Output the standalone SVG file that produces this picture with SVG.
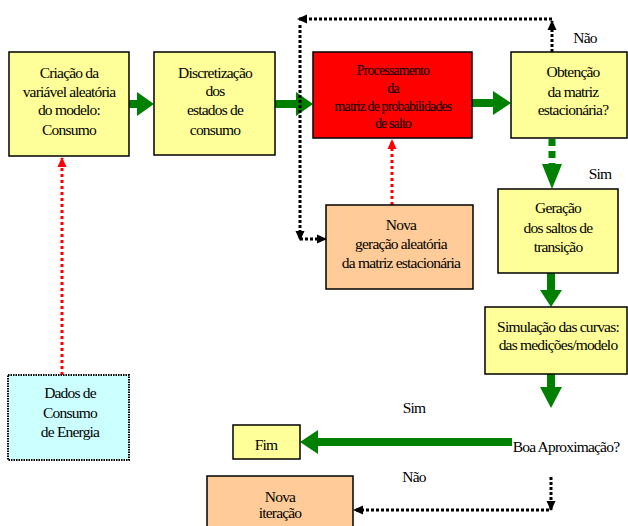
<svg xmlns="http://www.w3.org/2000/svg" width="628" height="526" viewBox="0 0 628 526" font-family="'Liberation Serif','Times New Roman',serif">
<style>
.box{stroke:#000;stroke-width:1.5}
.y{fill:#FFFF99}.r{fill:#FF0000}.p{fill:#FFCC99}.c{fill:#CCFFFF}
text{font-family:"Liberation Serif","Times New Roman",serif;font-size:15.5px;letter-spacing:-0.8px;fill:#000;text-anchor:middle}
.sm{font-size:14px;letter-spacing:-0.9px}
.g{fill:#008000}
.bd{fill:none;stroke:#000;stroke-width:3;stroke-dasharray:3 2}
.rd{fill:none;stroke:#FF0000;stroke-width:3;stroke-dasharray:3 3}
.gd{fill:none;stroke:#008000;stroke-width:7;stroke-dasharray:7 5}
</style>
<defs>
<marker id="ab" markerUnits="userSpaceOnUse" markerWidth="10" markerHeight="10" viewBox="0 0 10 10" refX="9" refY="5" orient="auto"><path d="M0,0.5 L10,5 L0,9.5 Z" fill="#000"/></marker>
<marker id="ar" markerUnits="userSpaceOnUse" markerWidth="10" markerHeight="10" viewBox="0 0 10 10" refX="9" refY="5" orient="auto"><path d="M0,0.5 L10,5 L0,9.5 Z" fill="#FF0000"/></marker>
</defs>
<g id="connectors">
<path class="g" d="M129,100 H137 V92 L154,104 L137,116 V108 H129 Z"/>
<path class="g" d="M275,100 H296 V92 L313,104 L296,116 V108 H275 Z"/>
<path class="g" d="M472,99 H493 V91 L511,103 L493,115 V107 H472 Z"/>
<line class="gd" x1="552" y1="139" x2="552" y2="164"/>
<path class="g" d="M542,164 L562,164 L552,189 Z"/>
<path class="g" d="M547,273 V290 H540 L551,307 L562,290 H555 V273 Z"/>
<path class="g" d="M547,374 V387 H540 L551,408 L562,387 H555 V374 Z"/>
<path class="g" d="M512,438 H318 V430 L300,442 L318,454 V446 H512 Z"/>
<line class="bd" x1="552" y1="52" x2="552" y2="21" marker-end="url(#ab)"/>
<line class="bd" x1="552" y1="19" x2="298" y2="19" marker-end="url(#ab)"/>
<line class="bd" x1="300" y1="25" x2="300" y2="240" marker-end="url(#ab)"/>
<line class="bd" x1="300" y1="239" x2="326" y2="239" marker-end="url(#ab)"/>
<line class="rd" x1="392" y1="205" x2="392" y2="140" marker-end="url(#ar)"/>
<line class="rd" x1="62" y1="375" x2="62" y2="158" marker-end="url(#ar)"/>
<line class="bd" x1="551" y1="477" x2="551" y2="510" marker-end="url(#ab)"/>
<line class="bd" x1="549" y1="510" x2="354" y2="510" marker-end="url(#ab)"/>
</g>
<g id="n1"><rect class="box y" x="9" y="52" width="120" height="104"/>
<text x="69" y="78">Criação da</text><text x="69" y="97">variável aleatória</text><text x="69" y="115">do modelo:</text><text x="69" y="135">Consumo</text></g>
<g id="n2"><rect class="box y" x="154" y="52" width="121" height="103"/>
<text x="215" y="78">Discretização</text><text x="215" y="96">dos</text><text x="215" y="115">estados de</text><text x="215" y="135">consumo</text></g>
<g id="n3"><rect class="box r" x="313" y="52" width="159" height="86"/>
<text class="sm" x="393" y="75">Processamento</text><text class="sm" x="393" y="93">da</text><text class="sm" x="393" y="111">matriz de probabilidades</text><text class="sm" x="393" y="128">de salto</text></g>
<g id="n4"><rect class="box y" x="511" y="52" width="116" height="86"/>
<text x="573" y="77">Obtenção</text><text x="573" y="97">da matriz</text><text x="573" y="115">estacionária?</text></g>
<text x="585" y="43">Não</text>
<g id="n5"><rect class="box p" x="326" y="205" width="147" height="84"/>
<text x="401" y="230">Nova</text><text x="401" y="249">geração aleatória</text><text x="401" y="268">da matriz estacionária</text></g>
<text x="600" y="179">Sim</text>
<g id="n6"><rect class="box y" x="498" y="189" width="120" height="84"/>
<text x="558" y="213">Geração</text><text x="558" y="233">dos saltos de</text><text x="558" y="252">transição</text></g>
<g id="n7"><rect class="box y" x="485" y="307" width="142" height="67"/>
<text x="558" y="332">Simulação das curvas:</text><text x="558" y="350">das medições/modelo</text></g>
<g id="n8"><text x="566" y="452">Boa Aproximação?</text></g>
<text x="414" y="413">Sim</text>
<text x="414" y="482">Não</text>
<g id="n9"><rect class="box y" x="233" y="425" width="67" height="34"/>
<text x="266" y="450">Fim</text></g>
<g id="n10"><rect class="box p" x="207" y="476" width="146" height="60"/>
<text x="280" y="502">Nova</text><text x="280" y="518">iteração</text></g>
<g id="n11"><rect x="8" y="375" width="121" height="85" class="c" stroke="#000" stroke-width="2" stroke-dasharray="1.5 1"/>
<text x="70" y="398">Dados de</text><text x="70" y="418">Consumo</text><text x="70" y="437">de Energia</text></g>
</svg>
